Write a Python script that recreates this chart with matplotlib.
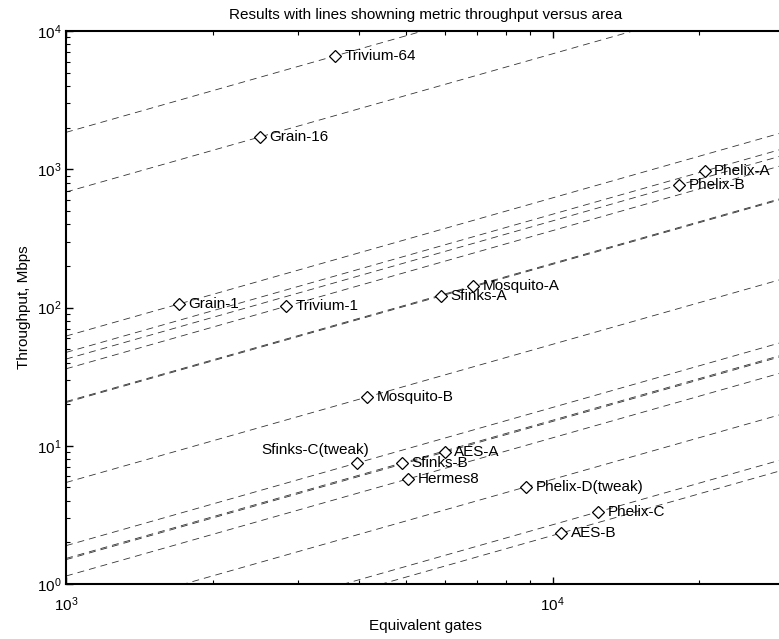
import numpy as np
import matplotlib
matplotlib.use("Agg")
import matplotlib.pyplot as plt

plt.rcParams['font.family'] = ['Liberation Sans', 'DejaVu Sans']
plt.rcParams['mathtext.fontset'] = 'custom'
plt.rcParams['mathtext.rm'] = 'Liberation Sans'
plt.rcParams['lines.scale_dashes'] = False

# designs: name, area [gates], throughput [Mbps]
names = ["Trivium-64", "Grain-16", "Grain-1", "Trivium-1", "Phelix-A", "Phelix-B",
         "Mosquito-A", "Sfinks-A", "Mosquito-B", "Sfinks-C(tweak)", "Sfinks-B",
         "AES-A", "Hermes8", "Phelix-D(tweak)", "Phelix-C", "AES-B"]
gates = [3565, 2500, 1706, 2832, 20500, 18150,
         6850, 5890, 4150, 3960, 4900,
         5998, 5035, 8810, 12370, 10420]
mbps = [6590, 1711, 106, 102, 970, 769,
        143, 121, 22.5, 7.5, 7.5,
        9.0, 5.75, 5.04, 3.32, 2.34]

XMIN, XMAX = 1e3, 3e4
YMIN, YMAX = 1e0, 1e4


def main():
    fig = plt.figure(figsize=(7.79, 6.39), dpi=100)
    ax = fig.add_axes([66 / 779, 1 - 584 / 639, (785 - 66) / 779, (584 - 31) / 639])

    # constant throughput/area lines through every design
    xs = np.array([XMIN, XMAX])
    for a, t in zip(gates, mbps):
        ax.plot(xs, t / a * xs, color='k', lw=0.6, ls=(0, (5, 3.6)), alpha=0.8)

    ax.plot(gates, mbps, 'D', ms=5.8, mfc='white', mec='k', mew=0.9, ls='none')

    for n, a, t in zip(names, gates, mbps):
        if n == "Sfinks-C(tweak)":
            ax.annotate(n, (a, t), xytext=(9, 4), textcoords='offset points',
                        ha='right', va='bottom', fontsize=11)
        else:
            ax.annotate(n, (a, t), xytext=(7, 0), textcoords='offset points',
                        ha='left', va='center', fontsize=11)

    ax.set_xscale('log')
    ax.set_yscale('log')
    ax.set_xlim(XMIN, XMAX)
    ax.set_ylim(YMIN, YMAX)

    ax.tick_params(which='both', direction='in', top=True, right=False, labelsize=11)
    ax.tick_params(which='major', length=5, width=1)
    ax.tick_params(which='minor', length=3, width=0.8)
    ax.tick_params(axis='x', pad=8)
    for s in ['left', 'bottom', 'top']:
        ax.spines[s].set_linewidth(1.5)
    ax.spines['right'].set_visible(False)

    ax.set_title("Results with lines showning metric throughput versus area", fontsize=11, pad=9)
    ax.set_xlabel("Equivalent gates", fontsize=11)
    ax.set_ylabel("Throughput, Mbps", fontsize=11)

    fig.savefig("out.png", dpi=100)


if __name__ == '__main__':
    main()
